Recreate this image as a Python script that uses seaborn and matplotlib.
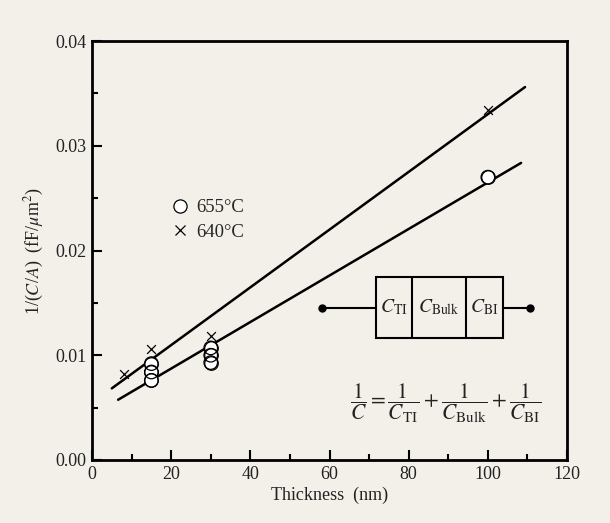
import numpy as np
import pandas as pd
import matplotlib
matplotlib.use("Agg")
import matplotlib.pyplot as plt
import seaborn as sns
from matplotlib.lines import Line2D
from matplotlib.patches import Rectangle

# ---- data ----
thick_655 = [15, 15, 15, 30, 30, 30, 100]
inv_ca_655 = [0.0092, 0.0084, 0.0076, 0.0107, 0.0100, 0.0093, 0.0270]
thick_640 = [8, 15, 30, 100]
inv_ca_640 = [0.0082, 0.0106, 0.0118, 0.0334]
fit_range_655 = [6.6, 108.4]
fit_range_640 = [5.0, 109.4]
x_ticks = [0, 20, 40, 60, 80, 100, 120]
y_ticks = [0.00, 0.01, 0.02, 0.03, 0.04]
labels = ["655°C", "640°C"]

BG = "#f3f0ea"
sns.set_theme(style="ticks")
plt.rcParams["font.family"] = ["Liberation Serif", "DejaVu Serif"]
plt.rcParams["mathtext.fontset"] = "stix"
plt.rcParams["axes.unicode_minus"] = False

fig = plt.figure(figsize=(6.1, 5.23), dpi=100, facecolor=BG)
ax = fig.add_axes([92 / 610, 1 - 460 / 523, 475 / 610, 419 / 523])
ax.set_facecolor(BG)

# fit lines (least squares through each data set)
p655 = np.polyfit(thick_655, inv_ca_655, 1)
p640 = np.polyfit(thick_640, inv_ca_640, 1)
fx655 = np.array(fit_range_655)
fx640 = np.array(fit_range_640)
sns.lineplot(x=fx640, y=np.polyval(p640, fx640), color="black", lw=1.8, ax=ax, zorder=2)
sns.lineplot(x=fx655, y=np.polyval(p655, fx655), color="black", lw=1.8, ax=ax, zorder=2)

df655 = pd.DataFrame({"t": thick_655, "v": inv_ca_655})
df640 = pd.DataFrame({"t": thick_640, "v": inv_ca_640})
sns.scatterplot(data=df655, x="t", y="v", marker="o", s=95, facecolor="white",
                edgecolor="black", linewidth=0.9, ax=ax, zorder=3)
sns.scatterplot(data=df655, x="t", y="v", marker="o", s=95, facecolor="none",
                edgecolor="black", linewidth=0.9, ax=ax, zorder=4)
sns.scatterplot(data=df640, x="t", y="v", marker="x", s=40, color="black",
                linewidth=0.9, ax=ax, zorder=4)

ax.set_xlim(0, 120)
ax.set_ylim(0, 0.04)
ax.set_xticks(x_ticks)
ax.set_xticklabels([str(v) for v in x_ticks])
ax.set_yticks(y_ticks)
ax.set_yticklabels([f"{v:.2f}" for v in y_ticks])
ax.set_xticks(np.arange(10, 120, 20), minor=True)
ax.set_yticks(np.arange(0.005, 0.04, 0.01), minor=True)
ax.tick_params(which="both", direction="in", top=False, right=False,
               width=1.5, colors="black", labelsize=13, pad=4)
ax.tick_params(which="major", length=7)
ax.tick_params(which="minor", length=4)
for lab in ax.get_xticklabels() + ax.get_yticklabels():
    lab.set_color("#222222")
for s in ax.spines.values():
    s.set_linewidth(2)
    s.set_color("black")
    s.set_visible(True)

ax.set_xlabel("Thickness  (nm)", fontsize=13, color="#222222")
ax.set_ylabel(r"1/($\mathit{C}$/$\mathit{A}$)  (fF/$\mu$m$^{2}$)", fontsize=13, color="#222222")
ax.xaxis.set_label_coords(0.5, -0.064)
ax.yaxis.set_label_coords(-0.097, 0.5)

# legend
handles = [Line2D([], [], ls="none", marker="o", ms=9.5, mfc="white", mec="black", mew=0.9),
           Line2D([], [], ls="none", marker="x", ms=6.5, color="black", mew=0.9)]
ax.legend(handles, labels, loc="center left", bbox_to_anchor=(0.13, 0.573),
          frameon=False, fontsize=13.5, handlelength=1.0, handletextpad=0.35,
          labelspacing=0.4)

# circuit diagram (axes-fraction coordinates)
def fx(px):
    return (px - 92) / 475

def fy(py):
    return (460 - py) / 419

tr = ax.transAxes
bx0, bx1, by0, by1 = fx(376), fx(503), fy(338), fy(277)
ax.add_patch(Rectangle((bx0, by0), bx1 - bx0, by1 - by0, transform=tr,
                       fill=False, lw=1.5, ec="black", zorder=5))
for d in (fx(412), fx(466)):
    ax.plot([d, d], [by0, by1], transform=tr, color="black", lw=1.5, zorder=5)
wy = fy(307.5)
ax.plot([fx(322), bx0], [wy, wy], transform=tr, color="black", lw=1.5, zorder=5)
ax.plot([bx1, fx(530)], [wy, wy], transform=tr, color="black", lw=1.5, zorder=5)
ax.plot([fx(322), fx(530)], [wy, wy], transform=tr, ls="none", marker="o", ms=5,
        color="black", zorder=6)
cells = [(376, 412, r"$C_{\mathrm{TI}}$"), (412, 466, r"$C_{\mathrm{Bulk}}$"),
         (466, 503, r"$C_{\mathrm{BI}}$")]
for a, b, t in cells:
    ax.text(fx((a + b) / 2), wy, t, transform=tr, ha="center", va="center",
            fontsize=14, color="#222222")

ax.text(fx(446), fy(403),
        r"$\dfrac{1}{C}=\dfrac{1}{C_{\mathrm{TI}}}+\dfrac{1}{C_{\mathrm{Bulk}}}+\dfrac{1}{C_{\mathrm{BI}}}$",
        transform=tr, ha="center", va="center", fontsize=15.5, color="#222222")

fig.savefig("out.png", dpi=100, facecolor=BG)
